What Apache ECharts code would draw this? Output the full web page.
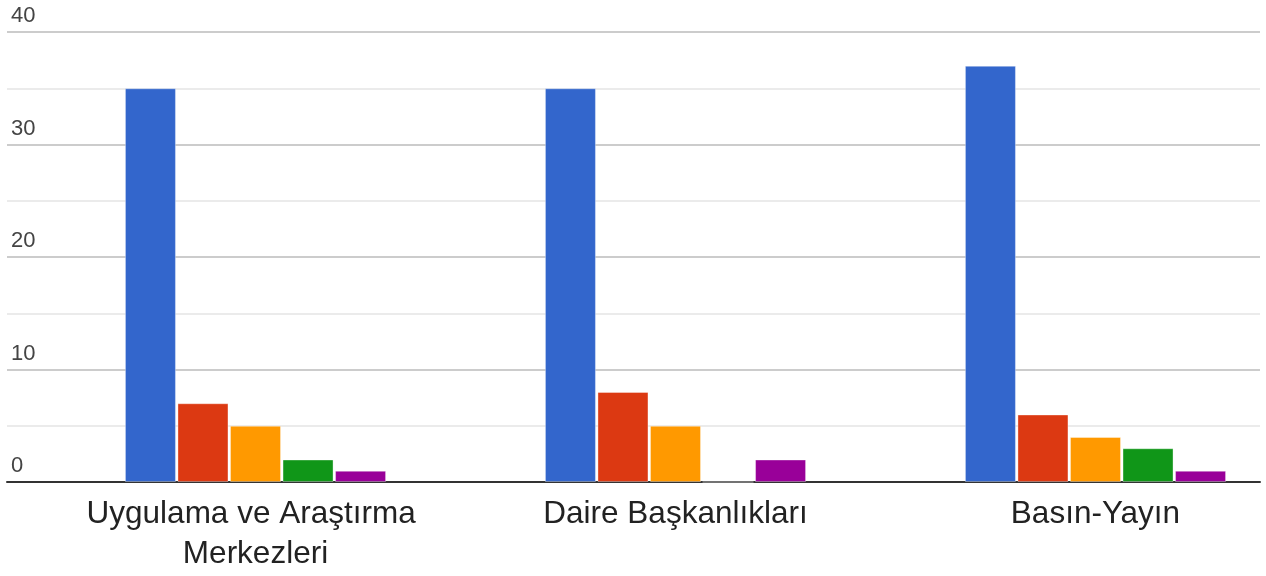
<!DOCTYPE html>
<html>
<head>
<meta charset="utf-8">
<script src="https://cdn.jsdelivr.net/npm/echarts@6/dist/echarts.min.js"></script>
<style>
html,body{margin:0;padding:0;background:#fff;}
#chart{width:1266px;height:576px;}
</style>
</head>
<body>
<div id="chart"></div>
<script>
const categories = ['Uygulama ve Araştırma Merkezleri', 'Daire Başkanlıkları', 'Basın-Yayın'];
const seriesBlue = [35, 35, 37];
const seriesRed = [7, 8, 6];
const seriesOrange = [5, 5, 4];
const seriesGreen = [2, 0, 3];
const seriesPurple = [1, 2, 1];
const yTicks = [0, 10, 20, 30, 40];

const colors = ['#3366cc', '#dc3912', '#ff9900', '#109618', '#990099'];
const allSeries = [seriesBlue, seriesRed, seriesOrange, seriesGreen, seriesPurple];
const catIndex = categories.map(function (c, i) { return i; });

const chart = echarts.init(document.getElementById('chart'));
chart.setOption({
  animation: false,
  grid: {left: 7, right: 6, top: 32, bottom: 94, containLabel: false, outerBoundsMode: 'none'},
  xAxis: {
    type: 'value', min: -0.5917, max: 2.3917,
    axisLine: {show: true, onZero: false, lineStyle: {color: '#333', width: 2}},
    axisTick: {show: false},
    splitLine: {show: false},
    axisLabel: {
      customValues: catIndex,
      formatter: function (v) { return categories[Math.round(v)] || ''; },
      fontFamily: 'Liberation Sans, Arial, sans-serif', fontSize: 31.5,
      color: '#222', lineHeight: 40, margin: 12, width: 390, overflow: 'break'
    }
  },
  yAxis: {
    type: 'value', min: 0, max: 40, interval: 10,
    axisLine: {show: false}, axisTick: {show: false},
    axisLabel: {
      inside: true, margin: 4, verticalAlign: 'bottom', padding: [0, 0, 5, 0],
      fontFamily: 'Liberation Sans, Arial, sans-serif', fontSize: 22, color: '#444',
      formatter: function (v) { return yTicks.indexOf(v) >= 0 ? String(v) : ''; }
    },
    splitLine: {show: true, lineStyle: {color: '#cccccc', width: 2}},
    minorTick: {show: false, splitNumber: 2},
    minorSplitLine: {show: true, lineStyle: {color: '#ebebeb', width: 2}}
  },
  series: allSeries.map(function (d, i) {
    return {
      type: 'bar', data: d.map(function (v, j) { return [catIndex[j], v]; }),
      barWidth: 51, barGap: '3%',
      itemStyle: {color: colors[i], borderColor: 'rgba(255,255,255,0.35)', borderWidth: 1}
    };
  })
});
</script>
</body>
</html>
